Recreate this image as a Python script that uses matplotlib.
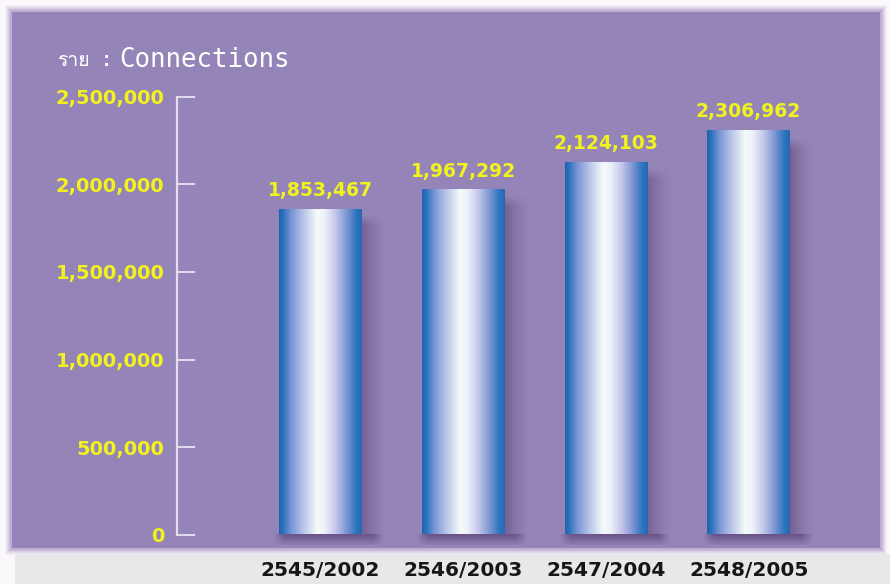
import matplotlib
matplotlib.use("Agg")
import matplotlib.pyplot as plt
import numpy as np
from matplotlib.patches import Rectangle
from matplotlib.colors import LinearSegmentedColormap
from matplotlib import font_manager
from matplotlib.ft2font import FT2Font

# ---- data ----
categories = ["2545/2002", "2546/2003", "2547/2004", "2548/2005"]
connections = [1853467, 1967292, 2124103, 2306962]
value_labels = ["1,853,467", "1,967,292", "2,124,103", "2,306,962"]
ytick_values = [0, 500000, 1000000, 1500000, 2000000, 2500000]
ytick_labels = ["0", "500,000", "1,000,000", "1,500,000", "2,000,000", "2,500,000"]
title_unit = "ราย"
title_sep = ":"
title_word = "Connections"

# ---- find a font with Thai glyphs ----
thai_family = None
for f in font_manager.fontManager.ttflist:
    try:
        if 0x0E23 in FT2Font(f.fname).get_charmap():
            thai_family = f.name
            break
    except Exception:
        pass

W, H = 890, 584
fig = plt.figure(figsize=(W / 100, H / 100), dpi=100)
fig.patch.set_facecolor("#fbf8fc")

def px_rect(x0, y0, x1, y1, **kw):
    return Rectangle((x0 / W, 1 - y1 / H), (x1 - x0) / W, (y1 - y0) / H,
                     transform=fig.transFigure, **kw)

# soft glow of panel edges
for i, a in enumerate([0.08, 0.10, 0.13, 0.18, 0.25, 0.35]):
    d = 6 - i
    fig.add_artist(px_rect(11 - d, 11 - d, 881 + d, 549 + d,
                           facecolor="#a896c4", edgecolor="none", alpha=a, zorder=0))
fig.add_artist(px_rect(12, 12, 880, 548, facecolor="#9484b8", edgecolor="none", zorder=0.1))
# bottom light strip
fig.add_artist(px_rect(15, 554, 890, 584, facecolor="#e8e8e8", edgecolor="none", zorder=0.2))

# ---- axes ----
ax_left_px, ax_right_px = 177, 880
ax_top_px, ax_bot_px = 97, 534.5
ax = fig.add_axes([ax_left_px / W, 1 - ax_bot_px / H,
                   (ax_right_px - ax_left_px) / W, (ax_bot_px - ax_top_px) / H])
ax.set_zorder(5)
ax.set_facecolor("none")
unit_px = 142.7
x_lo = -(320.5 - ax_left_px) / unit_px
x_hi = x_lo + (ax_right_px - ax_left_px) / unit_px

for s in ["top", "right", "bottom"]:
    ax.spines[s].set_visible(False)
ax.spines["left"].set_color("#e4dcf2")
ax.spines["left"].set_linewidth(1.6)

ax.set_yticks(ytick_values)
ax.set_yticklabels(ytick_labels)
ax.tick_params(axis="y", direction="in", length=13, width=1.4, color="#e4dcf2",
               pad=9, labelsize=14, labelcolor="#f2f21c")
for t in ax.get_yticklabels():
    t.set_fontweight("bold")
ax.set_xticks([])

# ---- bars with gradient ----
xs = np.arange(len(categories))
width = 0.58
bars = ax.bar(xs, connections, width=width, color="none", edgecolor="none", zorder=3)

cmap = LinearSegmentedColormap.from_list("cyl", [
    (0.00, "#1f62ad"), (0.05, "#2b72bd"), (0.15, "#7a96d5"), (0.30, "#bcc6ea"),
    (0.46, "#f4fbf8"), (0.55, "#eef0fb"), (0.68, "#c4c8ea"), (0.82, "#7c94d2"),
    (0.93, "#2e76c0"), (1.00, "#2668b2")])
grad = np.linspace(0, 1, 256)[None, :]

def shadow_img(nx, ny, fx, fy, amax):
    img = np.zeros((ny, nx, 4))
    img[..., 0] = 0.34
    img[..., 1] = 0.24
    img[..., 2] = 0.44
    img[..., 3] = amax * fy[:, None] * fx[None, :]
    return img

for b in bars:
    x0 = b.get_x()
    x1 = x0 + b.get_width()
    h = b.get_height()
    # right-side shadow (soft)
    nx, ny = 64, 128
    fx = (1 - np.linspace(0, 1, nx)) ** 1.5
    fy = np.where(np.arange(ny) < 4, np.arange(ny) / 4.0, 1.0)
    ax.imshow(shadow_img(nx, ny, fx, fy, 0.5), extent=(x1, x1 + 0.18, 0, h * 0.985),
              aspect="auto", zorder=2, interpolation="bilinear")
    # bottom shadow (soft, below bar)
    nx, ny = 64, 32
    t = np.linspace(-1, 1, nx)
    fx = np.clip((1 - np.abs(t)) / 0.2, 0, 1)
    fy = (1 - np.linspace(0, 1, ny)) ** 0.9
    ax.imshow(shadow_img(nx, ny, fx, fy, 0.7),
              extent=(x0 - 0.04, x1 + 0.16, -65000, 0), aspect="auto", zorder=2,
              interpolation="bilinear", clip_on=False)
    ax.imshow(grad, cmap=cmap, extent=(x0, x1, 0, h), aspect="auto", zorder=3,
              interpolation="bilinear")

ax.set_xlim(x_lo, x_hi)
ax.set_ylim(0, 2500000)

for x, v, lab in zip(xs, connections, value_labels):
    ax.annotate(lab, (x, v), xytext=(0, 7), textcoords="offset points",
                ha="center", va="bottom", fontsize=13.5, fontweight="bold",
                color="#f2f21c", zorder=5)

# category labels below
for x, c in zip(xs, categories):
    ax.annotate(c, (x, 0), xytext=(0, -26), textcoords="offset points",
                ha="center", va="center", fontsize=14.5, fontweight="bold",
                color="#161616", annotation_clip=False)

fams = ["DejaVu Sans Mono"] + ([thai_family] if thai_family else [])
fig.text(57 / W, 1 - 60 / H, title_unit, family=fams, fontsize=14,
         color="#ffffff", ha="left", va="center")
fig.text(100 / W, 1 - 60 / H, title_sep, family="DejaVu Sans Mono", fontsize=16,
         color="#ffffff", ha="left", va="center")
fig.text(119 / W, 1 - 60 / H, title_word, family="DejaVu Sans Mono", fontsize=18.5,
         color="#ffffff", ha="left", va="center")

fig.savefig("out.png", dpi=100, facecolor=fig.get_facecolor())
